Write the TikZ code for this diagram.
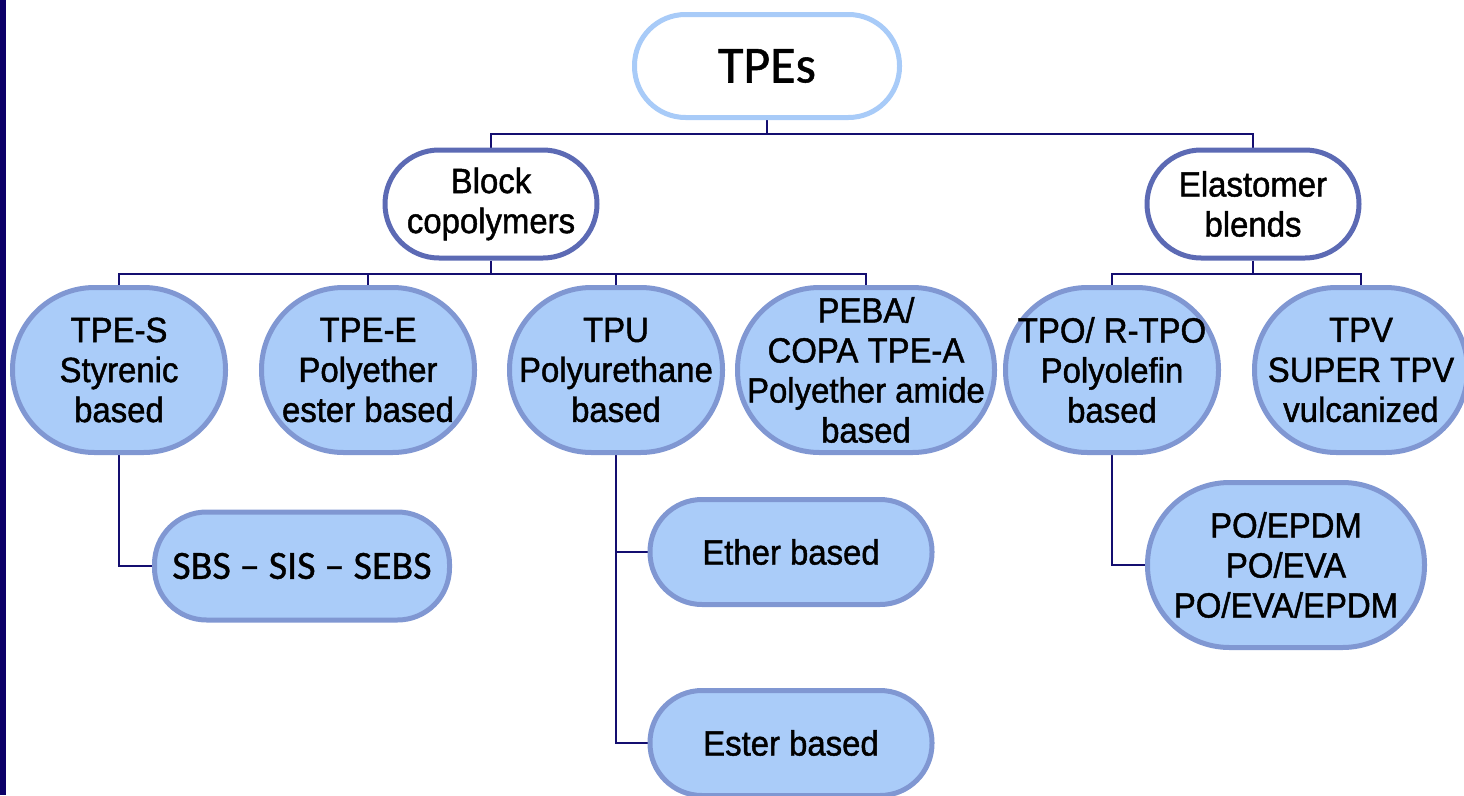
\documentclass[tikz,border=0pt]{standalone}
\usepackage{fontspec}
\setmainfont{Liberation Sans}[FakeBold=1.3, FakeStretch=0.94]
\newfontfamily\carl{Carlito}[FakeBold=1.0]
\usetikzlibrary{backgrounds}
\definecolor{navybar}{RGB}{12,0,104}
\definecolor{conncol}{RGB}{20,14,112}
\definecolor{rootborder}{RGB}{168,203,248}
\definecolor{midborder}{RGB}{92,106,180}
\definecolor{leaffill}{RGB}{170,204,249}
\definecolor{leafborder}{RGB}{128,151,210}
\tikzset{
  box/.style={draw, line width=5pt, inner sep=0pt, align=center,
    font=\fontsize{35}{40}\selectfont},
  rootbox/.style={box, draw=rootborder, fill=white, minimum width=265pt,
    minimum height=103pt, rounded corners=51pt, font=\carl\fontsize{52}{56}\selectfont},
  midbox/.style={box, draw=midborder, fill=white, minimum width=212pt,
    minimum height=108pt, rounded corners=54pt},
  ovalbox/.style={box, draw=leafborder, fill=leaffill, minimum width=213pt,
    minimum height=165pt, rounded corners=82pt},
  pillbox/.style={box, draw=leafborder, fill=leaffill, minimum height=105pt,
    rounded corners=52pt},
  conn/.style={draw=conncol, line width=2pt}
}
\begin{document}
\begin{tikzpicture}[x=1pt,y=-1pt]
\useasboundingbox (0,0) rectangle (1464,795);
\fill[navybar] (0,0) rectangle (6,795);

\node[rootbox] (root) at (767,66) {TPEs};
\node[midbox] (block) at (491,204) {Block\\copolymers};
\node[midbox] (elast) at (1253,204) {Elastomer\\blends};

\node[ovalbox] (tpes) at (119,370) {TPE-S\\Styrenic\\based};
\node[ovalbox] (tpee) at (368,370) {TPE-E\\Polyether\\ester based};
\node[ovalbox] (tpu) at (616,370) {TPU\\Polyurethane\\based};
\node[ovalbox, minimum width=257pt] (peba) at (866,370) {PEBA/\\COPA TPE-A\\Polyether amide\\based};
\node[ovalbox] (tpo) at (1112,370) {TPO/ R-TPO\\Polyolefin\\based};
\node[ovalbox] (tpv) at (1361,370) {TPV\\SUPER TPV\\vulcanized};

\node[pillbox, minimum width=295pt, minimum height=108pt, font=\carl\fontsize{40}{44}\selectfont] (sbs) at (302,566) {SBS – SIS – SEBS};
\node[pillbox, minimum width=282pt] (ether) at (791,552) {Ether based};
\node[pillbox, minimum width=282pt] (ester) at (791,743) {Ester based};
\node[ovalbox, minimum width=277pt] (po) at (1286,565) {PO/EPDM\\PO/EVA\\PO/EVA/EPDM};

\begin{scope}[on background layer]
\draw[conn] (root.south) -- ++(0,14) -| (block.north);
\draw[conn] (root.south) ++(0,14) -| (elast.north);
\draw[conn] (block.south) -- ++(0,13) -| (tpes.north);
\draw[conn] (block.south) ++(0,13) -| (tpee.north);
\draw[conn] (block.south) ++(0,13) -| (tpu.north);
\draw[conn] (block.south) ++(0,13) -| (peba.north);
\draw[conn] (elast.south) -- ++(0,13) -| (tpo.north);
\draw[conn] (elast.south) ++(0,13) -| (tpv.north);
\draw[conn] (tpes.south) |- (sbs.west);
\draw[conn] (tpu.south) |- (ether.west);
\draw[conn] (tpu.south) |- (ester.west);
\draw[conn] (tpo.south) |- (po.west);
\end{scope}
\end{tikzpicture}
\end{document}
